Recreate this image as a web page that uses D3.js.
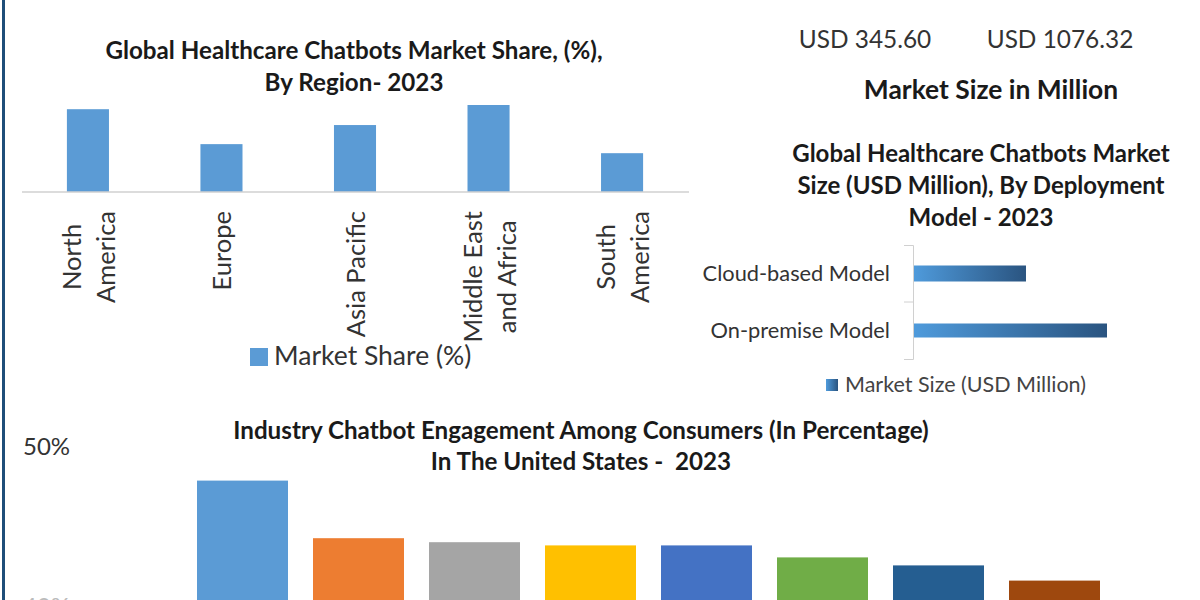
<!DOCTYPE html>
<html>
<head>
<meta charset="utf-8">
<script src="https://d3js.org/d3.v7.min.js"></script>
<style>
  html, body { margin: 0; padding: 0; background: #fff; overflow: hidden; }
  text { font-family: Lato, "Open Sans", sans-serif; }
  .title { font-weight: 700; fill: #1a1a1a; }
</style>
</head>
<body>
<div id="chart"></div>
<script>
// Region chart
const regions = [["North", "America"], ["Europe"], ["Asia Pacific"], ["Middle East", "and Africa"], ["South", "America"]];
const regionShare = [25.6, 14.8, 20.7, 26.9, 12.0];

// Deployment chart
const deployModels = ["Cloud-based Model", "On-premise Model"];
const deploySize = [127.2, 218.4];

// Industry engagement chart
const industries = ["A", "B", "C", "D", "E", "F", "G", "H"];
const engagement = [47.9, 44.3, 44.05, 43.85, 43.85, 43.1, 42.6, 41.65];
const engagementColors = ["#5b9bd5", "#ed7d31", "#a5a5a5", "#ffc000", "#4472c4", "#70ad47", "#255e91", "#9e480e"];
const engagementTicks = [50, 40];

const marketValues = ["USD 345.60", "USD 1076.32"];

const svg = d3.select("#chart").append("svg")
  .attr("width", 1200)
  .attr("height", 600)
  .style("display", "block");

const defs = svg.append("defs");
const grad = defs.append("linearGradient").attr("id", "barGrad");
grad.append("stop").attr("offset", "0%").attr("stop-color", "#4f9bdc");
grad.append("stop").attr("offset", "100%").attr("stop-color", "#2a5480");

// left border
svg.append("rect").attr("x", 2).attr("y", 0).attr("width", 3).attr("height", 600).attr("fill", "#1f4e79");

// top right figures
svg.append("text").attr("x", 865).attr("y", 48).attr("text-anchor", "middle")
  .attr("font-size", 24.4).attr("fill", "#333").text(marketValues[0]);
svg.append("text").attr("x", 1060).attr("y", 48).attr("text-anchor", "middle")
  .attr("font-size", 24.4).attr("fill", "#333").text(marketValues[1]);
svg.append("text").attr("class", "title").attr("x", 991).attr("y", 99).attr("text-anchor", "middle")
  .attr("font-size", 26.4).text("Market Size in Million");

// ---- region chart ----
const titleA = ["Global Healthcare Chatbots Market Share, (%),", "By Region- 2023"];
titleA.forEach((t, i) => {
  svg.append("text").attr("class", "title").attr("x", 354).attr("y", 59 + i * 32)
    .attr("text-anchor", "middle").attr("font-size", 24.2).text(t);
});

const xRegion = d3.scaleBand().domain(regions.map((d, i) => i)).range([21.5, 688.5]).paddingInner(0.685).paddingOuter(0.34);
const yRegion = d3.scaleLinear().domain([0, 26.9]).range([192, 105]);

svg.append("g").selectAll("rect").data(regionShare).join("rect")
  .attr("x", (d, i) => xRegion(i))
  .attr("y", d => yRegion(d))
  .attr("width", xRegion.bandwidth())
  .attr("height", d => yRegion(0) - yRegion(d))
  .attr("fill", "#5b9bd5");

svg.append("line").attr("x1", 22).attr("x2", 689).attr("y1", 192).attr("y2", 192)
  .attr("stroke", "#d0d0d0").attr("stroke-width", 1.5);

// wrapped labels are centred against their longest line, top aligned under the axis
regions.forEach((lines, i) => {
  const cx = xRegion(i) + xRegion.bandwidth() / 2;
  const labels = lines.map((line, j) => {
    const offset = (j - (lines.length - 1) / 2) * 34;
    return svg.append("text")
      .attr("text-anchor", "middle")
      .attr("font-size", 25.5).attr("fill", "#333")
      .attr("data-x", cx + offset + 10)
      .text(line);
  });
  const longest = d3.max(labels, l => l.node().getComputedTextLength());
  labels.forEach(l => {
    l.attr("transform", `translate(${l.attr("data-x")},${211 + longest / 2}) rotate(-90)`).attr("data-x", null);
  });
});

svg.append("rect").attr("x", 250).attr("y", 348).attr("width", 18).attr("height", 18).attr("fill", "#5b9bd5");
svg.append("text").attr("x", 274).attr("y", 365).attr("font-size", 26.5).attr("fill", "#333").text("Market Share (%)");

// ---- deployment chart ----
const titleB = ["Global Healthcare Chatbots Market", "Size (USD Million), By Deployment", "Model - 2023"];
titleB.forEach((t, i) => {
  svg.append("text").attr("class", "title").attr("x", 981).attr("y", 162 + i * 32)
    .attr("text-anchor", "middle").attr("font-size", 24).text(t);
});

const yDeploy = d3.scaleBand().domain(deployModels).range([245, 359]);
const xDeploy = d3.scaleLinear().domain([0, 218.4]).range([913, 1107]);
const barH = [16, 14];

svg.append("g").selectAll("rect").data(deploySize).join("rect")
  .attr("x", xDeploy(0))
  .attr("y", (d, i) => yDeploy(deployModels[i]) + yDeploy.bandwidth() / 2 - barH[i] / 2)
  .attr("width", d => xDeploy(d) - xDeploy(0))
  .attr("height", (d, i) => barH[i])
  .attr("fill", "url(#barGrad)");

const axisDeploy = d3.axisLeft(yDeploy).tickValues([]).tickSizeOuter(9);
const gDeploy = svg.append("g").attr("transform", "translate(913,0)").call(axisDeploy);
gDeploy.selectAll("path").attr("stroke", "#d0d0d0");
svg.append("line").attr("x1", 904).attr("x2", 913).attr("y1", 302).attr("y2", 302).attr("stroke", "#d0d0d0");

deployModels.forEach(m => {
  svg.append("text").attr("x", 890).attr("y", yDeploy(m) + yDeploy.bandwidth() / 2 + 7)
    .attr("text-anchor", "end").attr("font-size", 21.8).attr("fill", "#333").text(m);
});

svg.append("rect").attr("x", 826).attr("y", 379).attr("width", 12).attr("height", 12).attr("fill", "url(#barGrad)");
svg.append("text").attr("x", 845).attr("y", 392).attr("font-size", 21.5).attr("fill", "#444").text("Market Size (USD Million)");

// ---- engagement chart ----
const titleC = ["Industry Chatbot Engagement Among Consumers (In Percentage)", "In The United States -  2023"];
titleC.forEach((t, i) => {
  svg.append("text").attr("class", "title").attr("x", 581).attr("y", 439 + i * 31)
    .attr("text-anchor", "middle").attr("font-size", 24.2).attr("xml:space", "preserve").text(t);
});

const xInd = d3.scaleBand().domain(industries).range([197, 1100]).paddingInner(0.2155).paddingOuter(0);
const yInd = d3.scaleLinear().domain([40, 50]).range([607, 447]);

svg.append("g").selectAll("rect").data(engagement).join("rect")
  .attr("x", (d, i) => xInd(industries[i]))
  .attr("y", d => yInd(d))
  .attr("width", xInd.bandwidth())
  .attr("height", d => yInd(40) - yInd(d))
  .attr("fill", (d, i) => engagementColors[i]);

engagementTicks.forEach(t => {
  svg.append("text").attr("x", 23).attr("y", yInd(t) + 8).attr("font-size", 24)
    .attr("fill", t === 50 ? "#333" : "#bbb").text(t + "%");
});
</script>
</body>
</html>
